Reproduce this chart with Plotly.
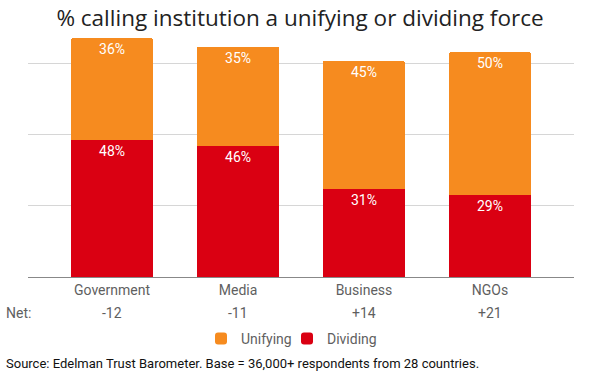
import plotly.graph_objects as go

categories = ["Government", "Media", "Business", "NGOs"]
dividing = [48, 46, 31, 29]
unifying = [36, 35, 45, 50]
net_labels = ["-12", "-11", "+14", "+21"]

title_text = "% calling institution a unifying or dividing force"
source_text = "Source: Edelman Trust Barometer. Base = 36,000+ respondents from 28 countries."

ORANGE = "#F68B1F"
RED = "#DA0012"
FONT = "Roboto"

fig = go.Figure()
fig.add_trace(go.Bar(
    x=categories, y=dividing, name="Dividing", legend="legend2",
    marker=dict(color=RED, line=dict(width=0)),
    text=[f"{v}%" for v in dividing], textposition="inside",
    insidetextanchor="end", textangle=0,
    textfont=dict(family=FONT, size=14, color="white"),
    width=0.65,
))
fig.add_trace(go.Bar(
    x=categories, y=unifying, name="Unifying", legend="legend",
    marker=dict(color=ORANGE, line=dict(width=0)),
    text=[f"{v}%" for v in unifying], textposition="inside",
    insidetextanchor="end", textangle=0,
    textfont=dict(family=FONT, size=14, color="white"),
    width=0.65,
))

annotations = []
for c, n in zip(categories, net_labels):
    annotations.append(dict(x=c, y=-0.1406, xref="x", yref="paper", text=n,
                            showarrow=False, yanchor="middle", xanchor="center",
                            font=dict(family=FONT, size=14, color="#5f5f5f")))
annotations.append(dict(x=-0.044, y=-0.1406, xref="paper", yref="paper", text="Net:",
                        showarrow=False, yanchor="middle", xanchor="left",
                        font=dict(family=FONT, size=14, color="#5f5f5f")))
annotations.append(dict(x=-0.044, y=-0.336, xref="paper", yref="paper", text=source_text,
                        showarrow=False, yanchor="middle", xanchor="left",
                        font=dict(family=FONT, size=13, color="#111111")))

legend_common = dict(orientation="h", y=-0.242, yanchor="middle", xanchor="left",
                     bgcolor="rgba(0,0,0,0)",
                     font=dict(family=FONT, size=14, color="#5f5f5f"))

fig.update_layout(
    width=600, height=375,
    barmode="stack",
    barcornerradius=2,
    margin=dict(l=28, r=26, t=21, b=98),
    paper_bgcolor="white", plot_bgcolor="white",
    title=dict(text=title_text, x=0.5, xanchor="center", y=1 - 18 / 375,
               yanchor="middle", yref="container",
               font=dict(family="Open Sans", size=22.5, color="#222222")),
    xaxis=dict(range=[-0.667, 3.667], showgrid=False, showline=True,
               linecolor="#888888", linewidth=1, ticks="",
               tickfont=dict(family=FONT, size=14, color="#5f5f5f")),
    yaxis=dict(range=[0, 90], tickvals=[25, 50, 75], showticklabels=False,
               showgrid=True, gridcolor="#d6d6d6", gridwidth=1, zeroline=False),
    legend=dict(x=(201 - 28) / 546, **legend_common),
    legend2=dict(x=(287 - 28) / 546, **legend_common),
    annotations=annotations,
    showlegend=True,
)

fig.write_html("out.html", config={"displayModeBar": False},
               post_script="document.body.style.margin='0px';")
